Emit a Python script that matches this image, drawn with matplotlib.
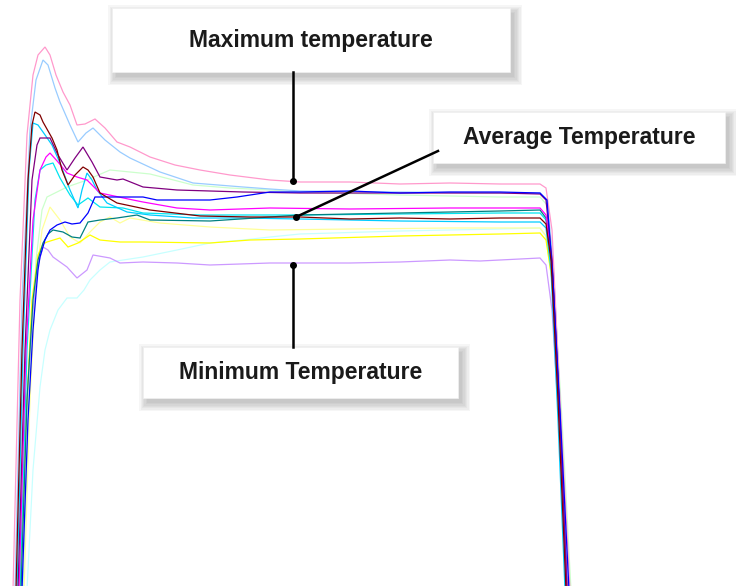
import matplotlib
matplotlib.use("Agg")
import matplotlib.pyplot as plt
from matplotlib.patches import Rectangle

# temperature traces (x = sample position, y = screen level, top is hot)
pink_x = [13, 20, 27, 33, 38, 45, 50, 56, 63, 70, 77, 85, 95, 105, 117, 130, 150, 175, 200, 230, 270, 300, 350, 400, 450, 500, 540, 546, 552, 560, 570]
pink_y = [590, 300, 135, 75, 55, 47, 55, 75, 92, 105, 125, 124, 119, 128, 142, 147, 157, 165, 170, 175, 180, 182, 182, 184, 183, 184, 184, 188, 230, 400, 590]

lightblue_x = [15, 22, 30, 36, 43, 48, 55, 60, 70, 78, 86, 93, 105, 120, 130, 160, 193, 243, 270, 300, 400, 500, 540, 547, 553, 561, 568]
lightblue_y = [590, 300, 130, 80, 60, 65, 88, 102, 125, 142, 133, 128, 140, 152, 158, 172, 183, 187, 189, 191, 192, 193, 193, 200, 260, 420, 590]

maroon_x = [16, 22, 28, 32, 35, 40, 43, 52, 57, 62, 68, 75, 83, 88, 93, 100, 117, 150, 200, 250, 300, 350, 400, 450, 500, 540, 546, 551, 558, 566]
maroon_y = [590, 350, 180, 125, 112, 115, 122, 138, 150, 170, 185, 175, 167, 170, 177, 193, 203, 210, 216, 217, 217, 219, 218, 219, 218, 218, 224, 260, 400, 590]

purple_x = [18, 25, 32, 37, 40, 50, 58, 67, 75, 83, 92, 100, 117, 123, 143, 177, 210, 243, 300, 400, 500, 540, 546, 552, 560, 567]
purple_y = [590, 350, 180, 145, 138, 138, 155, 170, 158, 147, 162, 177, 180, 179, 187, 190, 191, 192, 193, 193, 193, 194, 200, 260, 420, 590]

magenta_x = [19, 26, 33, 40, 46, 50, 58, 67, 77, 87, 100, 133, 143, 177, 210, 270, 350, 450, 500, 540, 546, 552, 560, 567]
magenta_y = [590, 350, 220, 170, 157, 153, 162, 173, 177, 180, 193, 200, 202, 208, 210, 208, 209, 208, 208, 208, 215, 260, 420, 590]

skyblue_x = [17, 23, 29, 33, 38, 43, 52, 60, 70, 78, 82, 87, 92, 97, 107, 127, 150, 193, 243, 300, 400, 500, 540, 546, 551, 558, 565]
skyblue_y = [590, 350, 170, 123, 125, 132, 145, 163, 190, 208, 190, 173, 180, 190, 203, 212, 215, 218, 218, 219, 221, 222, 222, 228, 270, 420, 590]

turq_x = [20, 27, 35, 40, 46, 53, 60, 70, 78, 88, 100, 123, 143, 200, 300, 400, 500, 540, 546, 552, 560, 566]
turq_y = [590, 350, 200, 170, 165, 163, 178, 195, 205, 198, 207, 208, 213, 215, 215, 214, 213, 213, 220, 265, 420, 590]

blue_x = [22, 28, 33, 38, 40, 45, 50, 57, 65, 72, 80, 88, 95, 110, 143, 157, 210, 237, 270, 300, 350, 400, 450, 500, 540, 547, 553, 561, 569]
blue_y = [590, 420, 330, 270, 257, 240, 230, 225, 222, 224, 223, 213, 197, 197, 197, 200, 200, 197, 192, 192, 191, 193, 192, 192, 193, 200, 280, 430, 590]

teal_x = [21, 27, 33, 38, 43, 48, 53, 63, 72, 80, 88, 100, 117, 137, 150, 210, 270, 300, 400, 500, 540, 546, 552, 560, 567]
teal_y = [590, 400, 300, 260, 243, 234, 230, 232, 237, 238, 222, 220, 218, 215, 220, 221, 217, 215, 213, 211, 210, 218, 265, 420, 590]

yellow_x = [20, 26, 32, 38, 43, 47, 60, 68, 78, 90, 100, 120, 143, 210, 250, 300, 400, 450, 500, 540, 546, 552, 560, 567]
yellow_y = [590, 420, 300, 255, 244, 242, 238, 247, 243, 235, 240, 242, 242, 243, 240, 239, 236, 235, 234, 233, 240, 280, 430, 590]

paleyellow_x = [24, 30, 36, 42, 50, 60, 70, 80, 90, 100, 110, 120, 130, 160, 210, 270, 350, 450, 540, 546, 552, 560, 567]
paleyellow_y = [590, 400, 280, 230, 207, 220, 237, 243, 232, 222, 217, 223, 218, 223, 227, 230, 229, 228, 228, 236, 280, 430, 590]

palegreen_x = [23, 29, 36, 42, 47, 55, 67, 87, 103, 110, 130, 150, 193, 230, 270, 300, 400, 500, 540, 547, 553, 562, 571]
palegreen_y = [590, 400, 260, 210, 197, 193, 187, 180, 173, 170, 172, 174, 185, 188, 190, 192, 195, 197, 197, 205, 270, 420, 590]

palecyan_x = [27, 33, 40, 45, 50, 58, 67, 77, 84, 90, 100, 110, 143, 177, 210, 243, 270, 300, 400, 500, 540, 546, 552, 560, 568]
palecyan_y = [590, 470, 387, 350, 330, 310, 298, 298, 290, 280, 270, 262, 257, 250, 243, 240, 237, 234, 231, 229, 228, 236, 280, 430, 590]

lavender_x = [20, 26, 32, 38, 43, 48, 53, 60, 67, 77, 87, 93, 110, 120, 143, 177, 210, 270, 350, 400, 450, 480, 540, 546, 552, 560, 568]
lavender_y = [590, 420, 320, 265, 247, 250, 257, 262, 267, 278, 270, 255, 258, 263, 262, 263, 265, 263, 263, 262, 260, 261, 258, 265, 310, 440, 590]

series = [
    (palecyan_x, palecyan_y, '#c8ffff'),
    (paleyellow_x, paleyellow_y, '#ffff99'),
    (palegreen_x, palegreen_y, '#ccffcc'),
    (lightblue_x, lightblue_y, '#99ccff'),
    (pink_x, pink_y, '#ff99cc'),
    (lavender_x, lavender_y, '#cc99ff'),
    (yellow_x, yellow_y, '#ffff00'),
    (turq_x, turq_y, '#00e5f0'),
    (skyblue_x, skyblue_y, '#00ccff'),
    (teal_x, teal_y, '#008080'),
    (magenta_x, magenta_y, '#ff00ff'),
    (purple_x, purple_y, '#800080'),
    (blue_x, blue_y, '#0000ff'),
    (maroon_x, maroon_y, '#800000'),
]

callouts = ['Maximum temperature', 'Average Temperature', 'Minimum Temperature']
boxes = [(112, 8, 398, 64), (433, 112, 292, 51), (143, 347, 315, 51)]
marks = [(293, 181), (296, 217), (293, 265)]
ends = [(293, 72), (438, 151), (293, 347)]

fig = plt.figure(figsize=(7.36, 5.86), dpi=100)
ax = fig.add_axes([0, 0, 1, 1])
ax.set_xlim(0, 736)
ax.set_ylim(586, 0)
ax.axis('off')

for xs, ys, c in series:
    ax.plot(xs, ys, color=c, lw=0.9, solid_joinstyle='miter')

for (bx, by, bw, bh), label in zip(boxes, callouts):
    # soft shadow
    for k in range(7):
        e = k * 1.3
        ax.add_patch(Rectangle((bx + 4 - e, by + 5 - e), bw + 2 * e, bh + 2 * e,
                               facecolor='#555555', edgecolor='none', alpha=0.05, zorder=5))
    ax.add_patch(Rectangle((bx, by), bw, bh, facecolor='white', edgecolor='#f0f0f0',
                           lw=0.5, zorder=6))
    ax.text(bx + bw / 2, by + bh / 2, label, ha='center', va='center',
            fontsize=16.5, fontweight='bold', family='Liberation Sans',
            color='#1a1a1a', zorder=7)

for (mx, my), (ex, ey) in zip(marks, ends):
    ax.plot([mx, ex], [my, ey], color='black', lw=1.8, zorder=8)
    ax.plot(mx, my, 'o', color='black', ms=4, zorder=9)

fig.savefig('out.png', dpi=100)
